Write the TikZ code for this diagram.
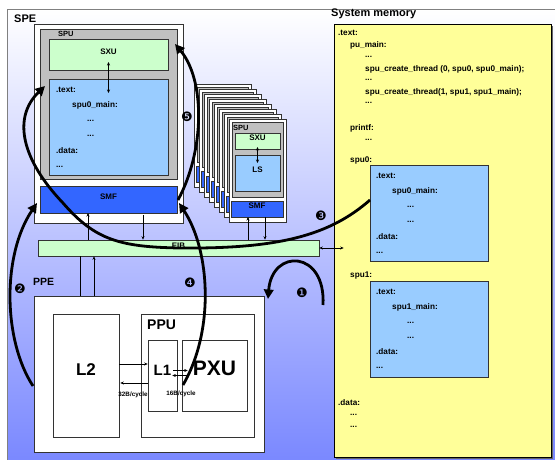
\documentclass[tikz,border=0pt]{standalone}
\usepackage{fontspec}
\setmainfont{Liberation Sans}
\newfontfamily\dv{DejaVu Sans}
\usetikzlibrary{arrows.meta,fit}
\definecolor{spugrey}{RGB}{192,192,192}
\definecolor{sxugreen}{RGB}{204,255,204}
\definecolor{lsblue}{RGB}{153,204,255}
\definecolor{smfblue}{RGB}{51,102,255}
\definecolor{memyellow}{RGB}{255,255,153}
\definecolor{bgblue}{RGB}{122,136,255}
\begin{document}
\begin{tikzpicture}[x=1pt,y=-1pt,
  box/.style={draw=black!80, line width=0.6pt, inner sep=0pt},
  lbl/.style={font=\bfseries\fontsize{8}{9}\selectfont, inner sep=0pt},
  code/.style={font=\bfseries\fontsize{8.2}{9}\selectfont, inner sep=0pt, anchor=west},
  tiny/.style={font=\bfseries\fontsize{6.3}{7}\selectfont, inner sep=0pt},
  thinarr/.style={line width=0.5pt, -{Stealth[length=3.5pt,width=3pt]}},
  thinboth/.style={line width=0.5pt, {Stealth[length=3.5pt,width=3pt]}-{Stealth[length=3.5pt,width=3pt]}},
  flow/.style={line width=2.8pt, -{Triangle[length=9.5pt,width=9.5pt]}},
  num/.style={font=\dv\fontsize{13}{13}\selectfont, inner sep=0pt}]
\useasboundingbox (0,0) rectangle (555,460);
% background
\path[top color=white, bottom color=bgblue] (7,9) rectangle (556,461);
\draw[gray, line width=0.6pt] (7,461) -- (7,9) -- (556,9);

% ---------- big SPE ----------
\node[font=\bfseries\fontsize{11}{12}\selectfont, inner sep=0pt, anchor=west] (spelbl) at (14,19) {SPE};
\node[box, fill=white, fit={(34,24) (183,223)}] (spe) {};
\node[box, fill=spugrey, fit={(40,29) (177,179)}] (spu) {};
\node[lbl, font=\bfseries\fontsize{7.5}{8}\selectfont, anchor=west] (spulbl) at (58,34) {SPU};
\node[box, fill=sxugreen, fit={(49,39) (168,70)}, lbl] (sxu) {SXU};
\node[box, fill=lsblue, fit={(49,79) (168,175)}] (ls) {};
\node[code] (l0) at (56,90) {.text:};
\node[code] (l1t) at (72,105) {spu0\_main:};
\node[code] (l2t) at (87,121) {...};
\node[code] (l3t) at (87,136) {...};
\node[code] (l4t) at (56,151) {.data:};
\node[code] (l5t) at (56,167) {...};
\node[box, fill=smfblue, fit={(40,186) (177,213)}, lbl] (smf) {SMF};
\draw[thinboth] ([shift={(0,7.5)}]sxu.center) -- ([shift={(0,-34)}]ls.center);

% ---------- stacked small SPEs ----------
\foreach \i in {7,...,1} {
  \begin{scope}[shift={(-5*\i,-5*\i)}]
    \filldraw[fill=white, draw=black!80, line width=0.6pt] (229,119) rectangle (286,222);
    \filldraw[fill=spugrey, draw=black!80, line width=0.6pt] (232,122) rectangle (283,197);
    \filldraw[fill=sxugreen, draw=black!80, line width=0.6pt] (235,133) rectangle (280,149);
    \filldraw[fill=lsblue, draw=black!80, line width=0.6pt] (235,155) rectangle (280,191);
    \filldraw[fill=smfblue, draw=black!80, line width=0.6pt] (231,201) rectangle (283,217);
  \end{scope}
}
\node[box, fill=white, fit={(229,119) (286,222)}] (spes) {};
\node[box, fill=spugrey, fit={(232,122) (283,197)}] (spus) {};
\node[lbl, font=\bfseries\fontsize{7.5}{8}\selectfont, anchor=west] (spuslbl) at (233,128) {SPU};
\node[box, fill=sxugreen, fit={(235,133) (280,149)}, lbl] (sxus) {SXU};
\node[box, fill=lsblue, fit={(235,155) (280,191)}, lbl] (lss) {LS};
\node[box, fill=smfblue, fit={(231,201) (283,217)}, lbl] (smfs) {SMF};
\draw[thinboth] ([shift={(0,6)}]sxus.center) -- ([shift={(0,-10)}]lss.center);

% ---------- EIB ----------
\node[box, fill=sxugreen, fit={(38,240) (319,256)}, lbl] (eib) {EIB};
\coordinate (a88) at (88,213);
\coordinate (a143) at (143,215);
\coordinate (a248) at (248,217);
\coordinate (a265) at (265,217);
\coordinate (a80) at (80,313);
\coordinate (a94) at (94,313);
\draw[thinarr] (a88 |- eib.north) -- (a88);
\draw[thinarr] (a143) -- (a143 |- eib.north);
\draw[thinarr] (a248 |- eib.north) -- (a248);
\draw[thinarr] (a265) -- (a265 |- eib.north);
\draw[thinarr] (a80 |- eib.south) -- (a80);
\draw[thinarr] (a94) -- (a94 |- eib.south);

% ---------- PPE ----------
\node[font=\bfseries\fontsize{10.5}{11}\selectfont, inner sep=0pt, anchor=west] (ppelbl) at (33,282) {PPE};
\node[box, fill=white, fit={(34,296) (264,452)}] (ppe) {};
\node[box, fill=white, fit={(53,314) (119,437)}, font=\bfseries\fontsize{17}{18}\selectfont] (l2) {L2};
\node[box, fill=white, fit={(141,314) (254,437)}] (ppu) {};
\node[font=\bfseries\fontsize{14}{15}\selectfont, inner sep=0pt, anchor=west] (ppulbl) at (147,325) {PPU};
\node[box, fill=white, fit={(148,340) (177,411)}, font=\bfseries\fontsize{15}{16}\selectfont] (l1) {L1};
\node[box, fill=white, fit={(182,340) (247,411)}, font=\bfseries\fontsize{21}{22}\selectfont] (pxu) {PXU};
\draw[thinarr] ([shift={(0,-11.5)}]l2.east) -- ([shift={(0,-11.5)}]l1.west);
\draw[thinarr] ([shift={(0,7.5)}]l1.west) -- ([shift={(1,7.5)}]l2.east);
\draw[thinarr] ([shift={(-4,-5)}]l1.east) -- ([shift={(6,-5)}]pxu.west);
\draw[thinarr] ([shift={(5,0)}]pxu.west) -- ([shift={(-5,0)}]l1.east);
\node[tiny] (bw32) at (133,395) {32B/cycle};
\node[tiny] (bw16) at (181,394) {16B/cycle};

% ---------- System memory ----------
\node[font=\bfseries\fontsize{11}{12}\selectfont, inner sep=0pt, anchor=west] (memlbl) at (331,14) {System memory};
\fill[black!60] (336,26) rectangle (553,459);
\node[box, draw=black, fill=memyellow, fit={(334,24) (551,457)}] (mem) {};
\draw[thinboth] (eib.east) -- ([xshift=10pt]eib.east -| mem.west);
\node[code] (m1) at (338,33) {.text:};
\node[code] (m2) at (350,45) {pu\_main:};
\node[code] (m3) at (365,57) {...};
\node[code] (m4) at (365,69) {spu\_create\_thread (0, spu0, spu0\_main);};
\node[code] (m5) at (365,80) {...};
\node[code] (m6) at (365,92) {spu\_create\_thread(1, spu1, spu1\_main);};
\node[code] (m7) at (365,103) {...};
\node[code] (m8) at (350,128) {printf:};
\node[code] (m9) at (365,140) {...};
\node[code] (m10) at (350,160) {spu0:};
\node[box, fill=lsblue, fit={(370,165) (488,261)}] (sp0) {};
\node[code] (s01) at (376,176) {.text:};
\node[code] (s02) at (392,191) {spu0\_main:};
\node[code] (s03) at (407,207) {...};
\node[code] (s04) at (407,222) {...};
\node[code] (s05) at (376,237) {.data:};
\node[code] (s06) at (376,253) {...};
\node[code] (m11) at (350,276) {spu1:};
\node[box, fill=lsblue, fit={(370,281) (488,377)}] (sp1) {};
\node[code] (s11) at (376,292) {.text:};
\node[code] (s12) at (392,307) {spu1\_main:};
\node[code] (s13) at (407,323) {...};
\node[code] (s14) at (407,338) {...};
\node[code] (s15) at (376,352) {.data:};
\node[code] (s16) at (376,368) {...};
\node[code] (m12) at (338,403) {.data:};
\node[code] (m13) at (350,415) {...};
\node[code] (m14) at (350,427) {...};

% ---------- thick flow curves ----------
\coordinate (c1s) at (323,305); \coordinate (c1e) at (268,299);
\coordinate (c2s) at (33,386);  \coordinate (c2e) at (37,203);
\coordinate (c3s) at (370,200); \coordinate (c3e) at (45,86);
\coordinate (c4s) at (183,385); \coordinate (c4e) at (179,203);
\coordinate (c5s) at (178,200); \coordinate (c5e) at (175,44);
\draw[flow] (c1s) .. controls (326,250) and (272,248) .. (c1e);
\draw[flow] (c2s) .. controls (3,340) and (2,255) .. (c2e);
\draw[flow] (c3s) .. controls (330,235) and (280,249) .. (180,248)
  .. controls (120,247) and (95,240) .. (63,203)
  .. controls (22,160) and (12,118) .. (c3e);
\draw[flow] (c4s) .. controls (215,330) and (210,250) .. (c4e);
\draw[flow] (c5s) .. controls (205,150) and (205,80) .. (c5e);
\node[num] (n1) at (302,293) {❶};
\node[num] (n2) at (20,289) {❷};
\node[num] (n3) at (321,216) {❸};
\node[num] (n4) at (190,283) {❹};
\node[num] (n5) at (187,117) {❺};
\end{tikzpicture}
\end{document}
